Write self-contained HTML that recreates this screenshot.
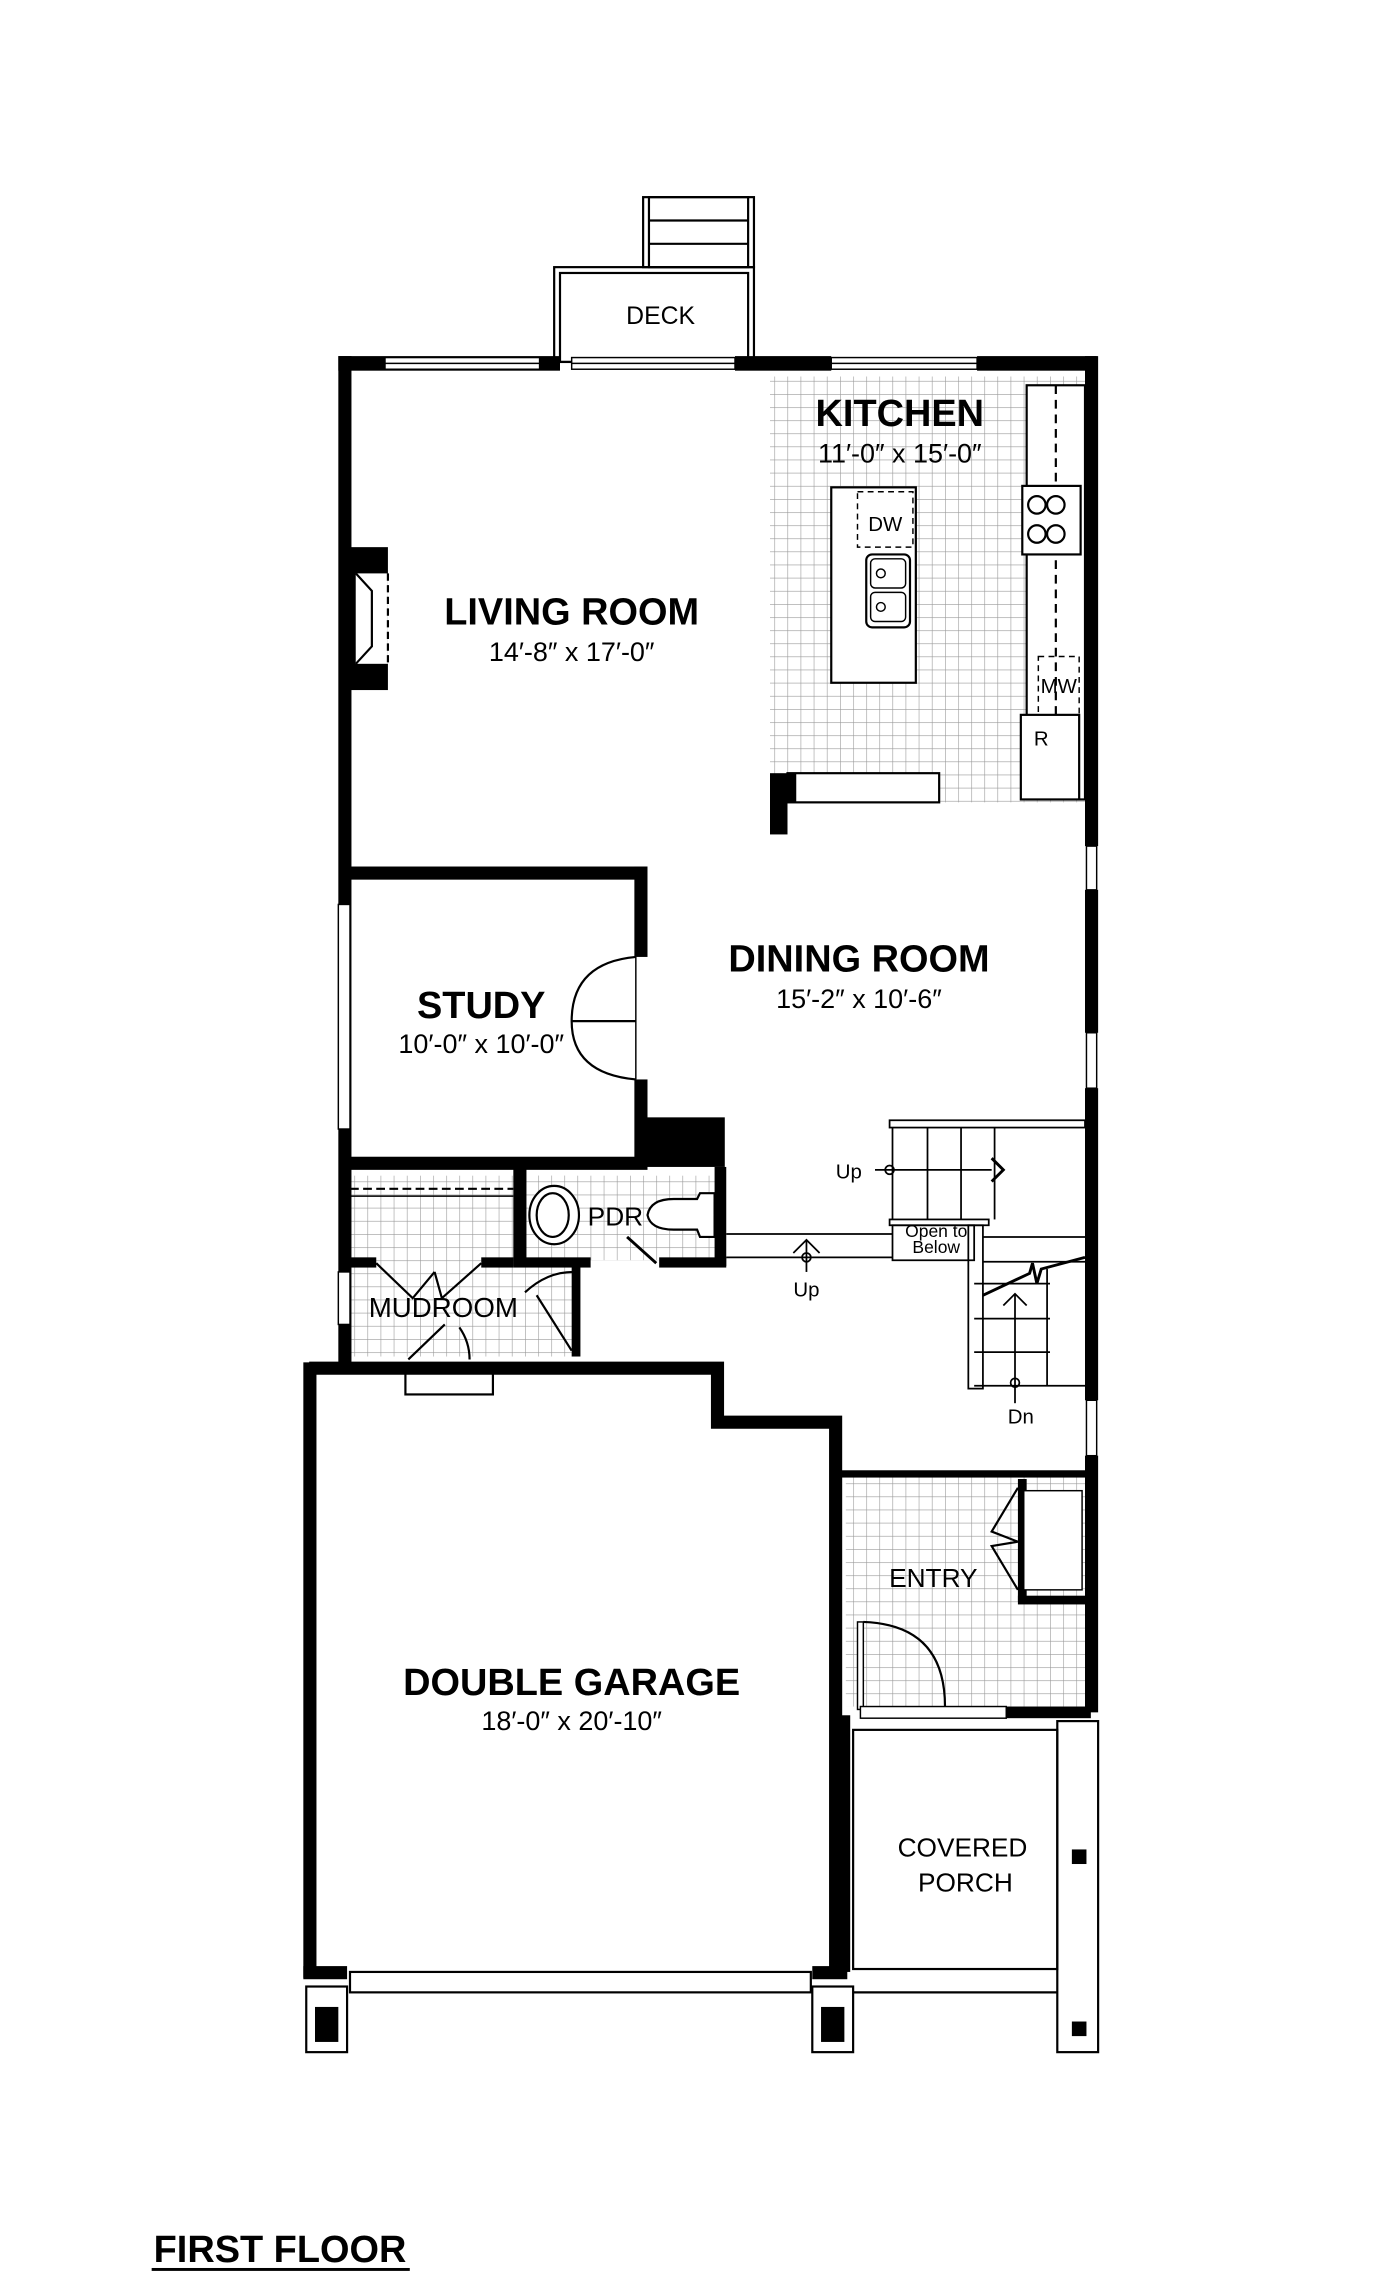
<!DOCTYPE html>
<html><head><meta charset="utf-8"><style>
html,body{margin:0;padding:0;background:#fff}
svg{display:block}
text{font-family:"Liberation Sans","DejaVu Sans",sans-serif;fill:#000;text-anchor:middle}
.t{font-size:26px;font-weight:bold}
.d{font-size:18.5px}
</style></head><body>
<svg width="1400" height="2277" viewBox="0 0 960 1561" xmlns="http://www.w3.org/2000/svg">
<defs>
<pattern id="tile" width="9" height="9" patternUnits="userSpaceOnUse">
<rect width="9" height="9" fill="#fff"/>
<path d="M0 0H9M0 0V9" stroke="#999" stroke-width="0.8" fill="none"/>
</pattern>
</defs>
<rect width="960" height="1561" fill="#fff"/>

<rect x="528" y="258" width="218" height="292" fill="url(#tile)"/>
<rect x="240" y="806" width="112" height="124" fill="url(#tile)"/>
<rect x="352" y="806" width="44" height="124" fill="url(#tile)"/>
<rect x="360" y="806" width="134" height="58" fill="url(#tile)"/>
<rect x="580" y="1012" width="166" height="158" fill="url(#tile)"/>

<g fill="none" stroke="#000" stroke-width="1.5">
<rect x="380" y="183" width="137" height="65"/>
<rect x="384" y="187" width="129" height="61"/>
<rect x="441" y="135" width="76" height="48"/>
<rect x="445" y="135" width="68" height="48"/>
<line x1="445" y1="151" x2="513" y2="151"/>
<line x1="445" y1="167" x2="513" y2="167"/>
</g>
<text x="453" y="222" font-size="17">DECK</text>

<g fill="#000">
<rect x="232" y="244" width="152" height="10"/>
<rect x="504" y="244" width="66" height="10"/>
<rect x="670" y="244" width="82" height="10"/>
<rect x="232" y="244" width="9" height="690"/>
<rect x="744" y="244" width="9" height="336"/>
<rect x="744" y="610" width="9" height="98"/>
<rect x="744" y="746" width="9" height="214"/>
<rect x="744" y="998" width="9" height="176"/>
<rect x="236" y="375" width="30" height="98"/>
</g>
<rect x="244" y="393" width="22" height="62" fill="#fff"/>
<path d="M244 393 L255 405 L255 443 L244 455" fill="#fff" stroke="#000" stroke-width="1.5"/>
<line x1="266" y1="393" x2="266" y2="455" stroke="#000" stroke-width="1.5" stroke-dasharray="5,3"/>

<g fill="#fff" stroke="#000" stroke-width="1">
<rect x="264" y="245" width="106" height="8"/>
<rect x="392" y="245" width="112" height="8"/>
<rect x="570" y="245" width="100" height="8"/>
<rect x="745" y="580" width="7" height="30"/>
<rect x="745" y="708" width="7" height="38"/>
<rect x="745" y="960" width="7" height="38"/>
<rect x="232" y="620" width="8" height="154"/>
<rect x="232" y="872" width="8" height="36"/>
</g>
<line x1="264" y1="249" x2="370" y2="249" stroke="#000"/>
<line x1="392" y1="249" x2="504" y2="249" stroke="#000"/>
<line x1="570" y1="249" x2="670" y2="249" stroke="#000"/>

<rect x="570" y="334" width="58" height="134" fill="#fff" stroke="#000" stroke-width="1.5"/>
<rect x="588" y="337" width="38" height="38" fill="#fff" stroke="#000" stroke-dasharray="4,3"/>
<text x="607" y="364" font-size="14">DW</text>
<rect x="594" y="380" width="30" height="50" rx="4" fill="#fff" stroke="#000" stroke-width="1.5"/>
<rect x="597" y="383" width="24" height="20" rx="3" fill="none" stroke="#000"/>
<rect x="597" y="406" width="24" height="20" rx="3" fill="none" stroke="#000"/>
<circle cx="604" cy="393" r="3" fill="none" stroke="#000"/>
<circle cx="604" cy="416" r="3" fill="none" stroke="#000"/>
<rect x="704" y="264" width="40" height="284" fill="#fff" stroke="#000" stroke-width="1.5"/>
<line x1="724" y1="264" x2="724" y2="548" stroke="#000" stroke-width="1.5" stroke-dasharray="6,4"/>
<rect x="701" y="333" width="40" height="47" fill="#fff" stroke="#000" stroke-width="1.5"/>
<circle cx="711" cy="346" r="6" fill="none" stroke="#000" stroke-width="1.5"/>
<circle cx="724" cy="346" r="6" fill="none" stroke="#000" stroke-width="1.5"/>
<circle cx="711" cy="366" r="6" fill="none" stroke="#000" stroke-width="1.5"/>
<circle cx="724" cy="366" r="6" fill="none" stroke="#000" stroke-width="1.5"/>
<rect x="712" y="450" width="28" height="40" fill="none" stroke="#000" stroke-dasharray="4,3"/>
<text x="726" y="475" font-size="14">MW</text>
<rect x="700" y="490" width="40" height="58" fill="#fff" stroke="#000" stroke-width="1.5"/>
<text x="714" y="511" font-size="14">R</text>
<rect x="528" y="530" width="12" height="42" fill="#000"/>
<rect x="540" y="530" width="104" height="20" fill="#fff" stroke="#000" stroke-width="1.5"/>
<rect x="540" y="530" width="6" height="20" fill="#000"/>
<text x="617" y="292" class="t">KITCHEN</text>
<text x="617" y="317" class="d">11′-0″ x 15′-0″</text>

<text x="392" y="428" class="t">LIVING ROOM</text>
<text x="392" y="453" class="d">14′-8″ x 17′-0″</text>

<g fill="#000">
<rect x="236" y="594" width="208" height="9"/>
<rect x="435" y="594" width="9" height="62"/>
<rect x="435" y="740" width="9" height="60"/>
<rect x="444" y="766" width="53" height="34"/>
<rect x="236" y="793" width="208" height="9"/>
</g>
<path d="M436 656 Q392 660 392 700 L436 700 M436 740 Q392 736 392 700" fill="none" stroke="#000" stroke-width="1.5"/>
<line x1="436" y1="656" x2="436" y2="740" stroke="#000" stroke-width="1"/>
<text x="330" y="698" class="t">STUDY</text>
<text x="330" y="722" class="d">10′-0″ x 10′-0″</text>
<text x="589" y="666" class="t">DINING ROOM</text>
<text x="589" y="691" class="d">15′-2″ x 10′-6″</text>

<g fill="#000">
<rect x="352" y="800" width="9" height="68"/>
<rect x="352" y="862" width="53" height="7"/>
<rect x="452" y="862" width="46" height="7"/>
<rect x="490" y="800" width="8" height="68"/>
<rect x="236" y="862" width="22" height="7"/>
<rect x="330" y="862" width="22" height="7"/>
<rect x="392" y="868" width="6" height="62"/>
</g>
<ellipse cx="380" cy="833" rx="17" ry="20" fill="#fff" stroke="#000" stroke-width="1.5"/>
<ellipse cx="379" cy="833" rx="11" ry="15" fill="none" stroke="#000" stroke-width="1.5"/>
<path d="M444 833 Q446 822 462 822 L478 822 L480 818 L490 818 L490 848 L480 848 L478 843 L462 843 Q446 843 444 833Z" fill="#fff" stroke="#000" stroke-width="1.5"/>
<text x="422" y="840" font-size="18">PDR</text>
<line x1="430" y1="848" x2="450" y2="866" stroke="#000" stroke-width="2"/>
<line x1="240" y1="815" x2="352" y2="815" stroke="#000" stroke-width="1.5" stroke-dasharray="6,3"/>
<line x1="240" y1="820" x2="352" y2="820" stroke="#000"/>
<path d="M258 866 L283 890 L298 872 M330 866 L303 890 L298 872" fill="none" stroke="#000" stroke-width="1.5"/>
<path d="M360 886 Q375 872 393 872 M368 888 L392 926" fill="none" stroke="#000" stroke-width="1.5"/>
<text x="304" y="903" font-size="19">MUDROOM</text>
<path d="M280 932 L305 908 M315 910 Q322 920 322 932" fill="none" stroke="#000" stroke-width="1.5"/>
<rect x="278" y="938" width="60" height="18" fill="#fff" stroke="#000" stroke-width="1.5"/>

<g fill="none" stroke="#000" stroke-width="1.2">
<line x1="498" y1="846" x2="612" y2="846"/>
<line x1="498" y1="862" x2="612" y2="862"/>
<path d="M544 859 L553 850 L562 859"/><line x1="553" y1="850" x2="553" y2="872"/>
<circle cx="553" cy="862" r="3"/>
<rect x="610" y="768" width="134" height="5"/>
<line x1="612" y1="773" x2="612" y2="836"/>
<line x1="636" y1="773" x2="636" y2="836"/>
<line x1="659" y1="773" x2="659" y2="836"/>
<line x1="682" y1="773" x2="682" y2="836"/>
<line x1="600" y1="802" x2="680" y2="802"/>
<circle cx="610" cy="802" r="3"/>
<path d="M680 794 L688 802 L680 810" stroke-width="2"/>
<rect x="610" y="836" width="68" height="4"/>
<rect x="612" y="840" width="56" height="24"/>
<rect x="664" y="840" width="10" height="112"/>
<line x1="674" y1="848" x2="744" y2="848"/>
<line x1="674" y1="865" x2="744" y2="865"/>
<line x1="668" y1="880" x2="720" y2="880"/>
<line x1="668" y1="904" x2="720" y2="904"/>
<line x1="668" y1="927" x2="720" y2="927"/>
<line x1="668" y1="950" x2="744" y2="950"/>
<line x1="718" y1="870" x2="718" y2="950"/>
<path d="M674 888 L706 873 L708 866 L711 880 L714 870 L744 862" stroke-width="2"/>
<path d="M688 895 L696 887 L704 895"/><line x1="696" y1="887" x2="696" y2="962"/>
<circle cx="696" cy="948" r="3"/>
</g>
<text x="582" y="808" font-size="14">Up</text>
<text x="553" y="889" font-size="14">Up</text>
<text x="700" y="976" font-size="14">Dn</text>
<text x="642" y="848" font-size="12">Open to</text>
<text x="642" y="859" font-size="12">Below</text>

<path d="M212 938 H492 V975 H573 V1352" fill="none" stroke="#000" stroke-width="9"/>
<rect x="208" y="934" width="9" height="422" fill="#000"/>
<rect x="208" y="1348" width="30" height="9" fill="#000"/>
<rect x="557" y="1348" width="24" height="9" fill="#000"/>
<rect x="240" y="1352" width="316" height="14" fill="#fff" stroke="#000" stroke-width="1.5"/>
<rect x="210" y="1362" width="28" height="45" fill="#fff" stroke="#000" stroke-width="1.5"/>
<rect x="557" y="1362" width="28" height="45" fill="#fff" stroke="#000" stroke-width="1.5"/>
<rect x="216" y="1376" width="16" height="24" fill="#000"/>
<rect x="563" y="1376" width="16" height="24" fill="#000"/>
<text x="392" y="1162" class="t">DOUBLE GARAGE</text>
<text x="392" y="1186" class="d">18′-0″ x 20′-10″</text>

<rect x="577" y="1008" width="171" height="5" fill="#000"/>
<rect x="698" y="1014" width="6" height="84" fill="#000"/>
<rect x="698" y="1094" width="50" height="6" fill="#000"/>
<rect x="702" y="1022" width="40" height="68" fill="#fff" stroke="#000"/>
<path d="M698 1020 L680 1050 L698 1057 M698 1090 L680 1060 L698 1057" fill="none" stroke="#000" stroke-width="1.5"/>
<text x="640" y="1088" font-size="18">ENTRY</text>
<rect x="588" y="1112" width="4" height="60" fill="#fff" stroke="#000"/>
<path d="M592 1112 Q648 1114 648 1170" fill="none" stroke="#000" stroke-width="1.5"/>
<rect x="590" y="1170" width="100" height="8" fill="#fff" stroke="#000"/>
<rect x="690" y="1170" width="58" height="8" fill="#000"/>
<rect x="573" y="1176" width="10" height="176" fill="#000"/>

<g fill="none" stroke="#000" stroke-width="1.5">
<rect x="585" y="1186" width="140" height="164"/>
<rect x="725" y="1180" width="28" height="227"/>
<line x1="585" y1="1366" x2="725" y2="1366"/>
</g>
<rect x="735" y="1268" width="10" height="10" fill="#000"/>
<rect x="735" y="1386" width="10" height="10" fill="#000"/>
<text x="660" y="1273" font-size="18">COVERED</text>
<text x="662" y="1297" font-size="18">PORCH</text>

<text x="192" y="1551" font-size="26" font-weight="bold">FIRST FLOOR</text>
<rect x="104" y="1555" width="177" height="2" fill="#000"/>
</svg>
</body></html>
